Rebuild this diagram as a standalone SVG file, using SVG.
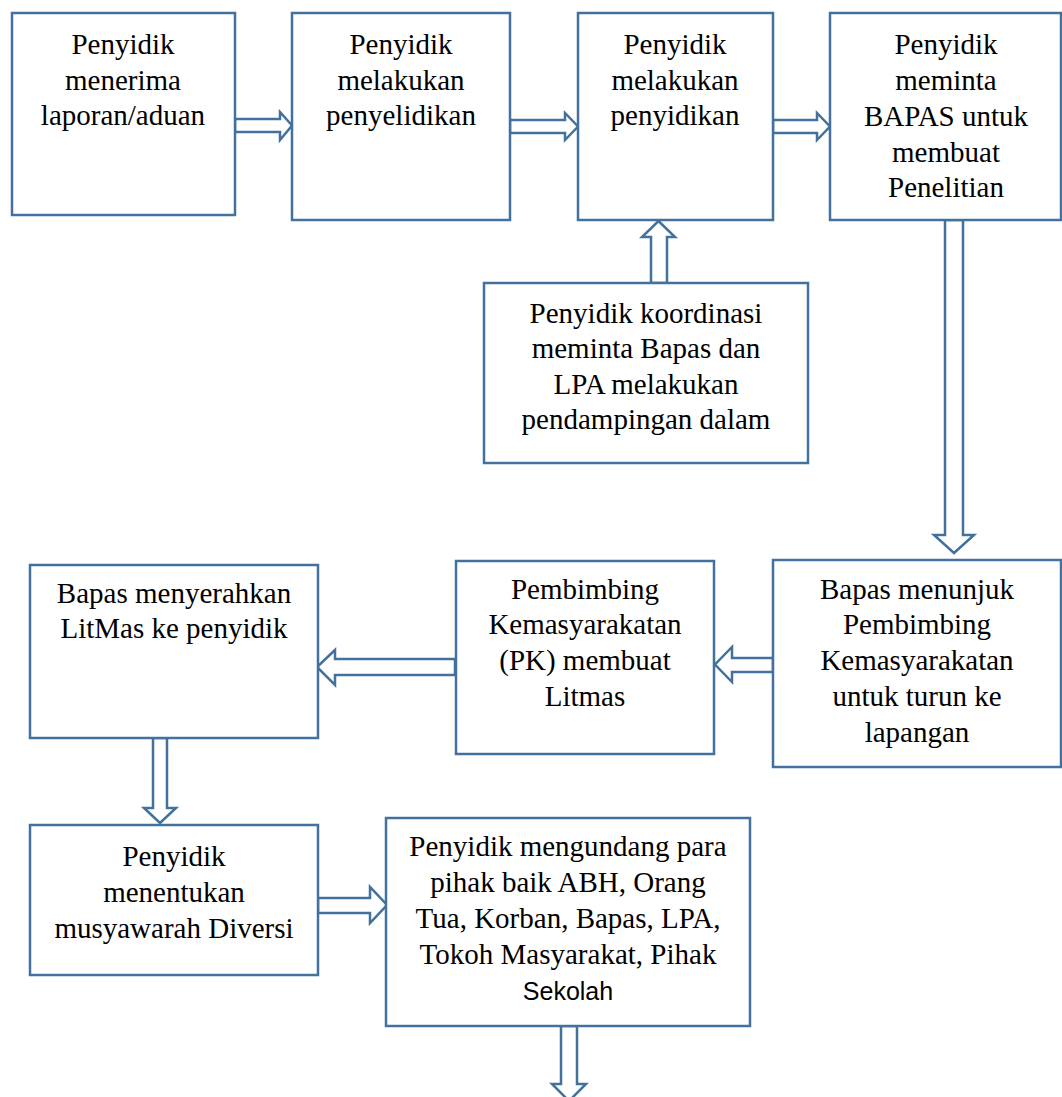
<svg xmlns="http://www.w3.org/2000/svg" width="1062" height="1097" viewBox="0 0 1062 1097">
<style>
.box{fill:#fff;stroke:#41719C;stroke-width:2.5}
.arr{fill:#fff;stroke:#41719C;stroke-width:2.5;stroke-linejoin:miter}
.t{font-family:"Liberation Serif","Times New Roman",serif;font-size:29px;fill:#000;text-anchor:middle}
.s{font-family:"Liberation Sans",Arial,sans-serif;font-size:25px;fill:#000;text-anchor:middle}
</style>
<rect width="1062" height="1097" fill="#fff"/>
<g id="connectors">
<polygon class="arr" points="235,119 280,119 280,112 292,125.5 280,140 280,132 235,132"/>
<polygon class="arr" points="510,120 565,120 565,113 578,126.5 565,140 565,133 510,133"/>
<polygon class="arr" points="773,120 817,120 817,113 830,126.5 817,140 817,133 773,133"/>
<polygon class="arr" points="651,283 651,237 642,237 658.5,221 675,237 667,237 667,283"/>
<polygon class="arr" points="945,220 945,535 934,535 954,553 974,535 963,535 963,220"/>
<polygon class="arr" points="773,658 732,658 732,647 715,664.5 732,682 732,672 773,672"/>
<polygon class="arr" points="455,659 335,659 335,650 317,667 335,685 335,675 455,675"/>
<polygon class="arr" points="153,738 153,808 144,808 160,823 176,808 167,808 167,738"/>
<polygon class="arr" points="318,898 370,898 370,887 387,905 370,923 370,913 318,913"/>
<polygon class="arr" points="561,1026 561,1084 552,1084 569,1101 586,1084 577,1084 577,1026"/>
</g>
<g id="n1">
<rect class="box" x="12" y="13" width="223" height="202"/>
<text class="t" x="123" y="54">Penyidik</text>
<text class="t" x="123" y="90">menerima</text>
<text class="t" x="123" y="125">laporan/aduan</text>
</g>
<g id="n2">
<rect class="box" x="292" y="13" width="218" height="207"/>
<text class="t" x="401" y="54">Penyidik</text>
<text class="t" x="401" y="90">melakukan</text>
<text class="t" x="401" y="125">penyelidikan</text>
</g>
<g id="n3">
<rect class="box" x="578" y="13" width="195" height="207"/>
<text class="t" x="675" y="54">Penyidik</text>
<text class="t" x="675" y="90">melakukan</text>
<text class="t" x="675" y="125">penyidikan</text>
</g>
<g id="n4">
<rect class="box" x="830" y="13" width="231" height="207"/>
<text class="t" x="946" y="54">Penyidik</text>
<text class="t" x="946" y="90">meminta</text>
<text class="t" x="946" y="126">BAPAS untuk</text>
<text class="t" x="946" y="162">membuat</text>
<text class="t" x="946" y="197">Penelitian</text>
</g>
<g id="n5">
<rect class="box" x="484" y="283" width="324" height="180"/>
<text class="t" x="646" y="323">Penyidik koordinasi</text>
<text class="t" x="646" y="358">meminta Bapas dan</text>
<text class="t" x="646" y="394">LPA melakukan</text>
<text class="t" x="646" y="429">pendampingan dalam</text>
</g>
<g id="n6">
<rect class="box" x="773" y="560" width="288" height="207"/>
<text class="t" x="917" y="599">Bapas menunjuk</text>
<text class="t" x="917" y="634">Pembimbing</text>
<text class="t" x="917" y="670">Kemasyarakatan</text>
<text class="t" x="917" y="706">untuk turun ke</text>
<text class="t" x="917" y="742">lapangan</text>
</g>
<g id="n7">
<rect class="box" x="456" y="561" width="258" height="193"/>
<text class="t" x="585" y="599">Pembimbing</text>
<text class="t" x="585" y="634">Kemasyarakatan</text>
<text class="t" x="585" y="670">(PK) membuat</text>
<text class="t" x="585" y="706">Litmas</text>
</g>
<g id="n8">
<rect class="box" x="30" y="565" width="288" height="173"/>
<text class="t" x="174" y="603">Bapas menyerahkan</text>
<text class="t" x="174" y="638">LitMas ke penyidik</text>
</g>
<g id="n9">
<rect class="box" x="30" y="825" width="288" height="150"/>
<text class="t" x="174" y="866">Penyidik</text>
<text class="t" x="174" y="902">menentukan</text>
<text class="t" x="174" y="938">musyawarah Diversi</text>
</g>
<g id="n10">
<rect class="box" x="386" y="818" width="364" height="208"/>
<text class="t" x="568" y="856">Penyidik mengundang para</text>
<text class="t" x="568" y="892">pihak baik ABH, Orang</text>
<text class="t" x="568" y="928">Tua, Korban, Bapas, LPA,</text>
<text class="t" x="568" y="964">Tokoh Masyarakat, Pihak</text>
<text class="s" x="568" y="1000">Sekolah</text>
</g>
</svg>
